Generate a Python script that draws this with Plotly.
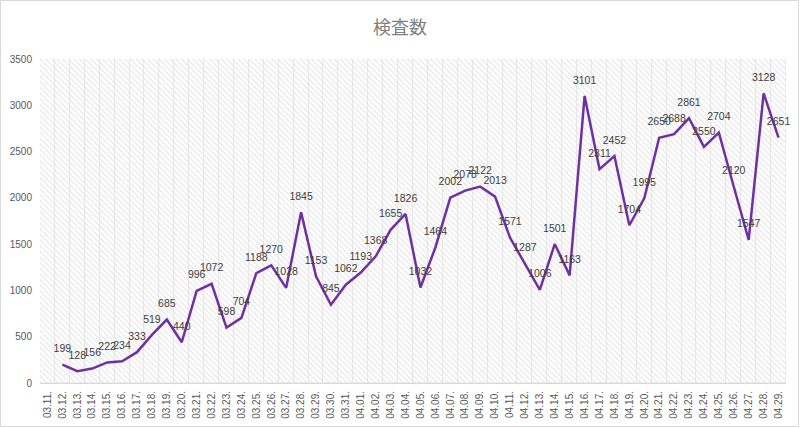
import plotly.graph_objects as go

dates = ["03.11.", "03.12.", "03.13.", "03.14.", "03.15.", "03.16.", "03.17.", "03.18.", "03.19.", "03.20.",
         "03.21.", "03.22.", "03.23.", "03.24.", "03.25.", "03.26.", "03.27.", "03.28.", "03.29.", "03.30.",
         "03.31.", "04.01.", "04.02.", "04.03.", "04.04.", "04.05.", "04.06.", "04.07.", "04.08.", "04.09.",
         "04.10.", "04.11.", "04.12.", "04.13.", "04.14.", "04.15.", "04.16.", "04.17.", "04.18.", "04.19.",
         "04.20.", "04.21.", "04.22.", "04.23.", "04.24.", "04.25.", "04.26.", "04.27.", "04.28.", "04.29."]

tests = [None, 199, 128, 156, 222, 234, 333, 519, 685, 440,
         996, 1072, 598, 704, 1188, 1270, 1028, 1845, 1153, 845,
         1062, 1193, 1368, 1655, 1826, 1032, 1464, 2002, 2078, 2122,
         2013, 1571, 1287, 1006, 1501, 1163, 3101, 2311, 2452, 1704,
         1995, 2650, 2688, 2861, 2550, 2704, 2120, 1547, 3128, 2651]

title_text = "検査数"
y_ticks = [0, 500, 1000, 1500, 2000, 2500, 3000, 3500]

W, H = 800, 428
ml, mr, mt, mb = 40, 14, 59, 45
pw, ph = W - ml - mr, H - mt - mb

fig = go.Figure()

# hatched plot background (decoration) using full-height bars on the base y axis
fig.add_trace(go.Bar(
    x=dates, y=[1] * len(dates), yaxis="y",
    marker=dict(color="white",
                line=dict(color="#e0e0e0", width=0.7),
                pattern=dict(shape="\\", fgcolor="#cfcfcf", bgcolor="white", size=4, solidity=0.3)),
    hoverinfo="skip", showlegend=False,
))

fig.add_trace(go.Scatter(
    x=dates, y=tests, mode="lines+markers+text", yaxis="y2",
    line=dict(color="#7030A0", width=2.5),
    marker=dict(size=14, color="rgba(0,0,0,0)"),
    text=[("" if v is None else str(v)) for v in tests],
    textposition="top center",
    textfont=dict(family="Liberation Sans", size=10.5, color="#404040"),
    showlegend=False, connectgaps=False, cliponaxis=False,
))

fig.update_layout(
    width=W, height=H,
    margin=dict(l=ml, r=mr, t=mt, b=mb, autoexpand=False),
    paper_bgcolor="white", plot_bgcolor="white",
    bargap=0,
    title=dict(text=title_text, x=0.5, xanchor="center", y=1 - 28 / H, yanchor="middle",
               font=dict(family="Noto Sans CJK JP", size=18, color="#7f7f7f")),
    xaxis=dict(type="category", categoryorder="array", categoryarray=dates,
               range=[-0.5, len(dates) - 0.5], autorange=False,
               tickangle=-90, tickfont=dict(family="Liberation Sans", size=10, color="#595959"),
               showgrid=False, showline=True, linecolor="#d9d9d9",
               ticks="outside", ticklen=3, tickcolor="rgba(0,0,0,0)"),
    yaxis=dict(range=[0, 1], visible=False, showgrid=False, fixedrange=True),
    yaxis2=dict(range=[0, 3500], tickvals=y_ticks, overlaying="y", side="left",
                showgrid=True, gridcolor="#e0e0e0", gridwidth=1,
                tickfont=dict(family="Liberation Sans", size=10, color="#595959"),
                zeroline=False, showline=False,
                ticks="outside", ticklen=5, tickcolor="rgba(0,0,0,0)"),
    shapes=[dict(type="rect", xref="paper", yref="paper",
                 x0=-(ml - 0.5) / pw, x1=1 + (mr - 1.5) / pw,
                 y0=-(mb - 1.5) / ph, y1=1 + (mt - 0.5) / ph,
                 line=dict(color="#d9d9d9", width=1), layer="below")],
)

fig.write_html("out.html")
